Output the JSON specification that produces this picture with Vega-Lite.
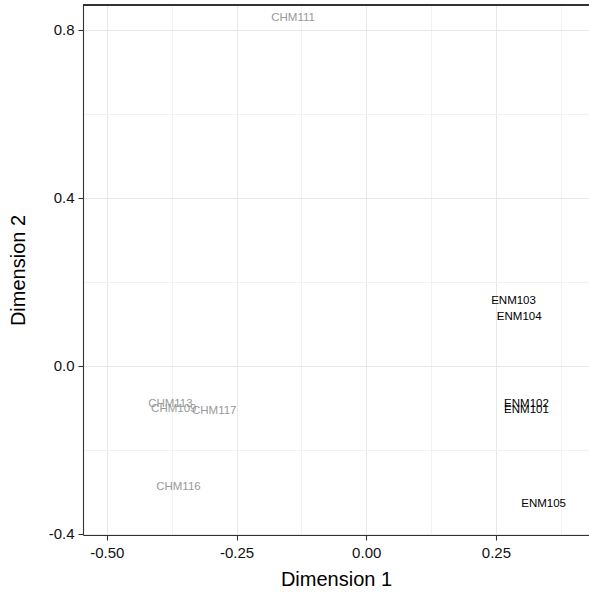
{
  "$schema": "https://vega.github.io/schema/vega-lite/v6.json",
  "width": 506,
  "height": 530,
  "autosize": {"type": "none"},
  "padding": {"left": 83, "top": 5, "right": 0, "bottom": 62},
  "config": {
    "font": "Liberation Sans",
    "view": {"stroke": null},
    "axis": {
      "domain": true,
      "domainColor": "#333333",
      "domainWidth": 1.1,
      "labelFont": "Liberation Sans",
      "titleFont": "Liberation Sans",
      "labelFontSize": 15,
      "titleFontSize": 20,
      "titleFontWeight": "normal",
      "labelColor": "#111111",
      "titleColor": "#000000",
      "tickColor": "#333333",
      "tickSize": 5,
      "tickWidth": 1.1,
      "gridWidth": 1
    }
  },
  "data": {
    "values": [
      {"sample": "CHM111", "group": "CHM", "dim1": -0.141, "dim2": 0.827},
      {"sample": "CHM113", "group": "CHM", "dim1": -0.3775, "dim2": -0.092},
      {"sample": "CHM109", "group": "CHM", "dim1": -0.371, "dim2": -0.104},
      {"sample": "CHM117", "group": "CHM", "dim1": -0.293, "dim2": -0.108},
      {"sample": "CHM116", "group": "CHM", "dim1": -0.362, "dim2": -0.289},
      {"sample": "ENM103", "group": "ENM", "dim1": 0.284, "dim2": 0.153},
      {"sample": "ENM104", "group": "ENM", "dim1": 0.295, "dim2": 0.115},
      {"sample": "ENM101", "group": "ENM", "dim1": 0.309, "dim2": -0.105},
      {"sample": "ENM102", "group": "ENM", "dim1": 0.309, "dim2": -0.090},
      {"sample": "ENM105", "group": "ENM", "dim1": 0.342, "dim2": -0.328}
    ]
  },
  "encoding": {
    "x": {
      "field": "dim1",
      "type": "quantitative",
      "scale": {"domain": [-0.546, 0.4295], "nice": false, "zero": false},
      "axis": {
        "title": "Dimension 1",
        "values": [-0.5, -0.375, -0.25, -0.125, 0, 0.125, 0.25, 0.375],
        "format": ".2f",
        "labelPadding": 5,
        "titlePadding": 9,
        "labelExpr": "abs(datum.value*4 - round(datum.value*4)) < 0.001 ? replace(datum.label, '\u2212', '-') : ''",
        "tickOpacity": {"condition": {"test": "abs(datum.value*4 - round(datum.value*4)) < 0.001", "value": 1}, "value": 0},
        "gridColor": {"condition": {"test": "abs(datum.value*4 - round(datum.value*4)) < 0.001", "value": "#e8e8e8"}, "value": "#f2f2f2"}
      }
    },
    "y": {
      "field": "dim2",
      "type": "quantitative",
      "scale": {"domain": [-0.403, 0.859], "nice": false, "zero": false},
      "axis": {
        "title": "Dimension 2",
        "values": [-0.4, -0.2, 0, 0.2, 0.4, 0.6, 0.8],
        "format": ".1f",
        "labelPadding": 4,
        "titlePadding": 20,
        "labelExpr": "abs(datum.value*2.5 - round(datum.value*2.5)) < 0.001 ? replace(datum.label, '\u2212', '-') : ''",
        "tickOpacity": {"condition": {"test": "abs(datum.value*2.5 - round(datum.value*2.5)) < 0.001", "value": 1}, "value": 0},
        "gridColor": {"condition": {"test": "abs(datum.value*2.5 - round(datum.value*2.5)) < 0.001", "value": "#e8e8e8"}, "value": "#f2f2f2"}
      }
    }
  },
  "layer": [
    {
      "mark": {"type": "rule", "color": "#333333", "strokeWidth": 1.1},
      "encoding": {
        "x": null,
        "y": {"datum": 0.859, "type": "quantitative"}
      }
    },
    {
      "mark": {"type": "text", "fontSize": 11.5, "font": "Liberation Sans", "align": "center", "baseline": "middle"},
      "encoding": {
        "text": {"field": "sample", "type": "nominal"},
        "color": {
          "field": "group",
          "type": "nominal",
          "scale": {"domain": ["CHM", "ENM"], "range": ["#999999", "#000000"]},
          "legend": null
        }
      }
    }
  ]
}
